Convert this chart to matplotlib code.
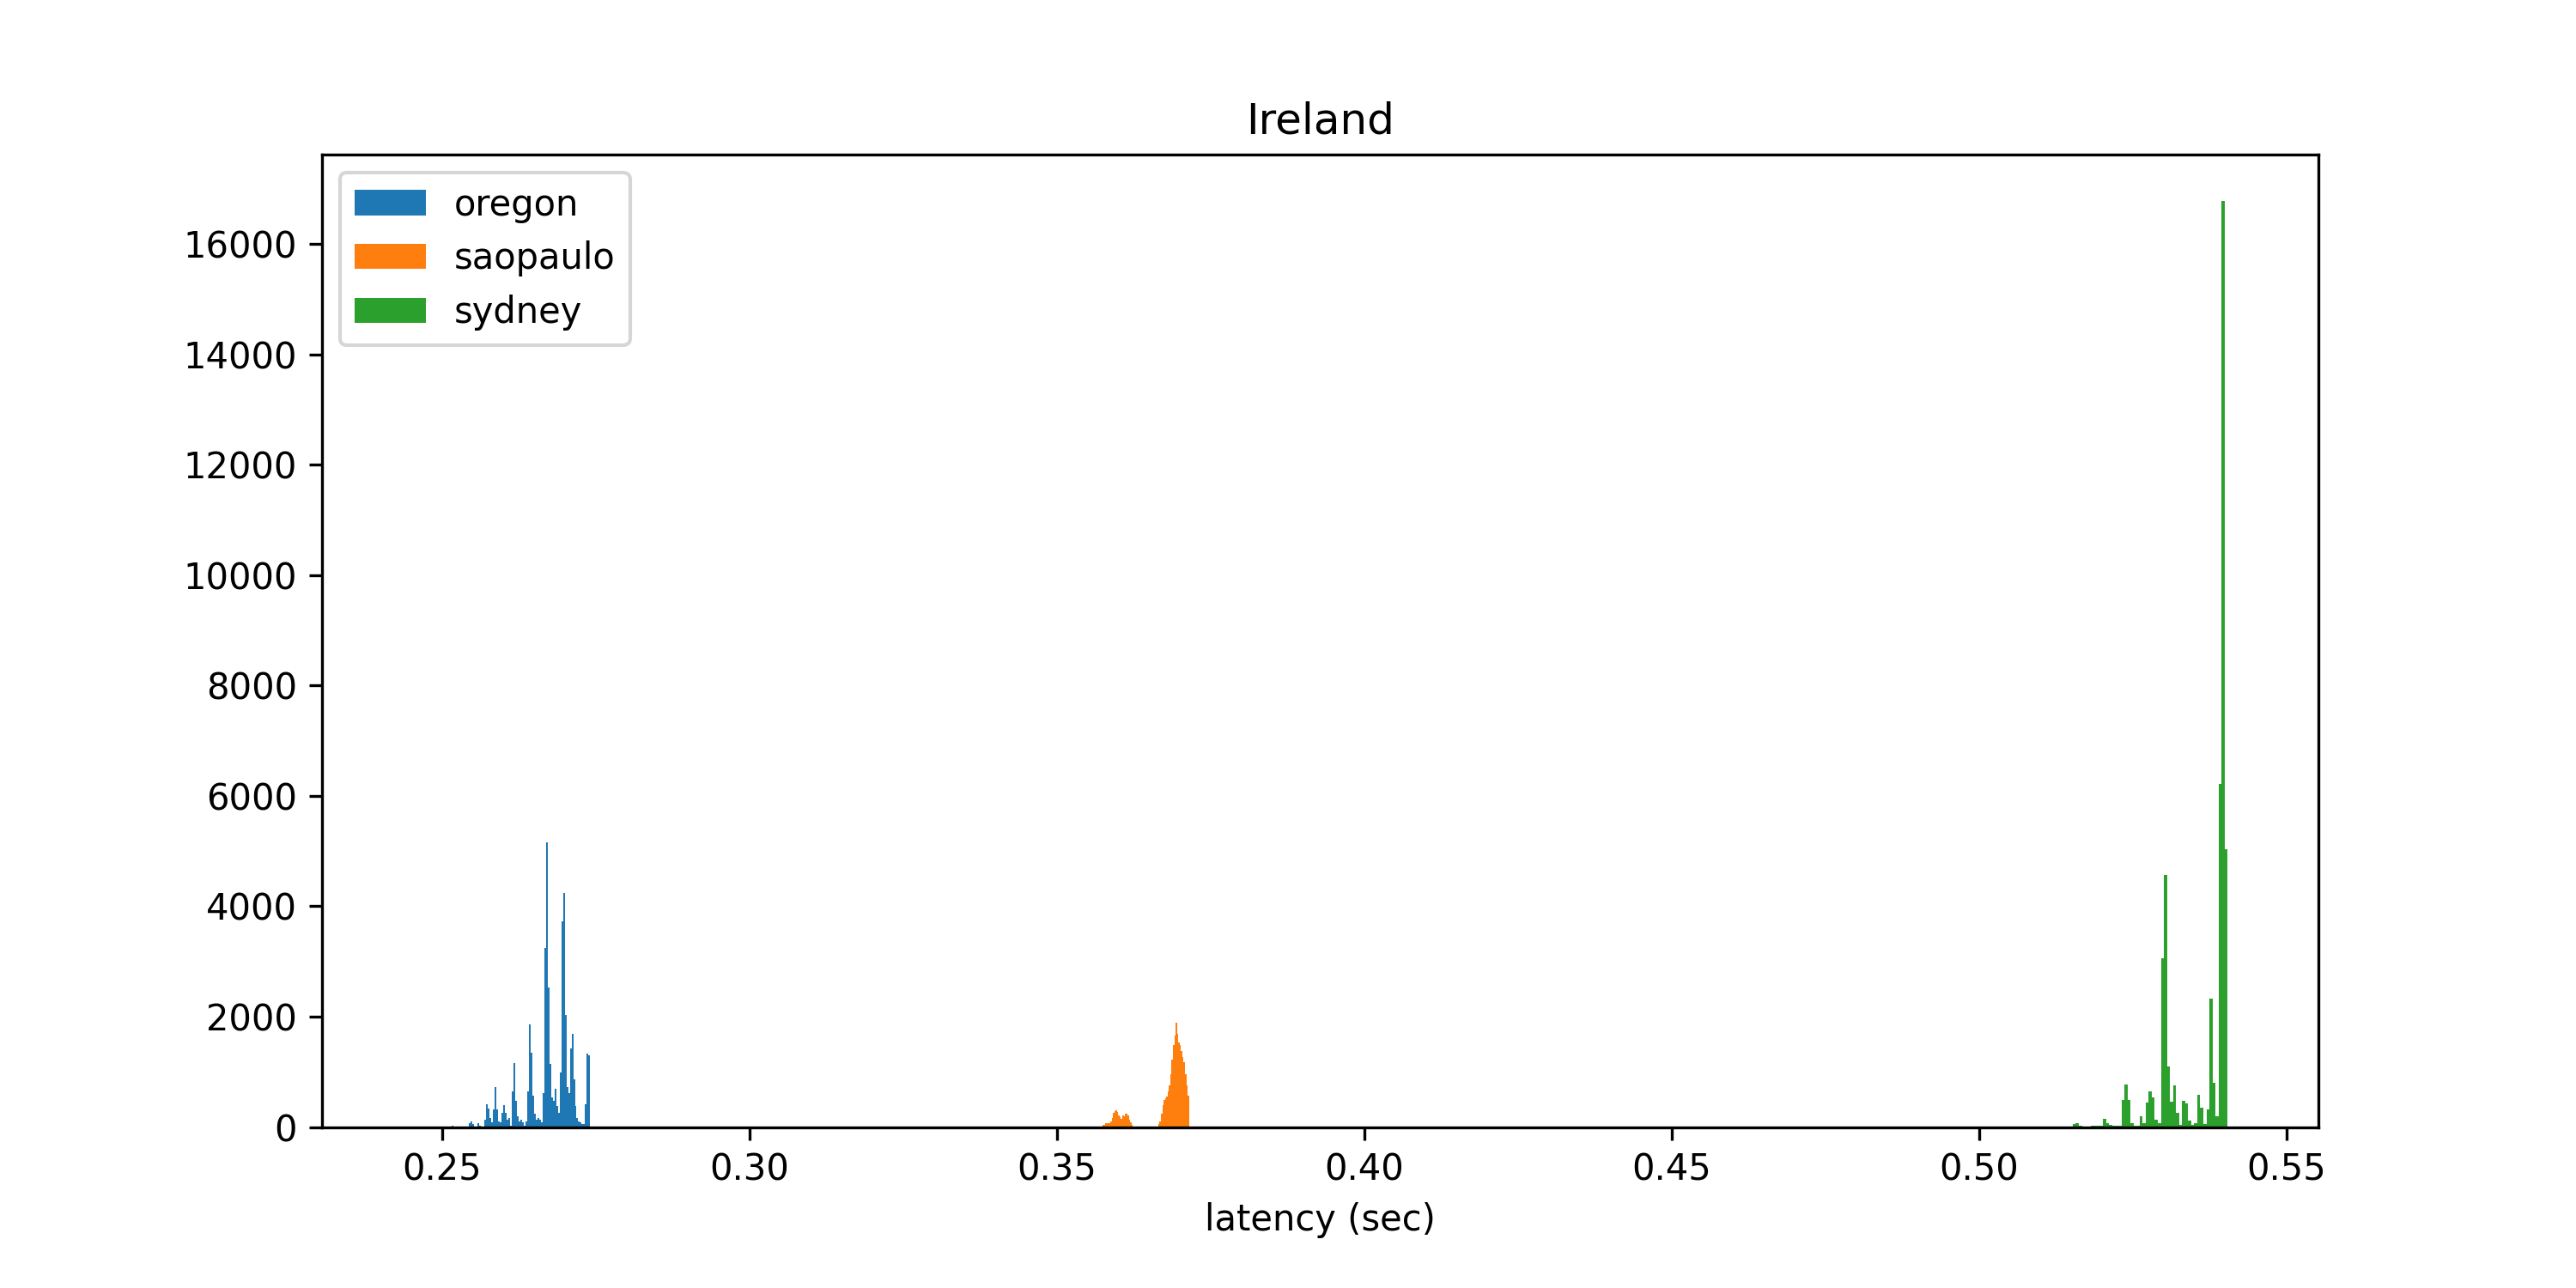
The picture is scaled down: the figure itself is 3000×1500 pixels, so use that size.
"""Ireland latency histograms for three remote regions."""

import matplotlib
matplotlib.use("Agg")
import matplotlib.pyplot as plt
import numpy as np

# per-bin counts; bins are equal width within each series
OREGON_START, OREGON_WIDTH = 0.24526, 0.0002776
OREGON_COUNTS = [
    0, 3, 0, 2, 1, 0, 4, 3, 2,
    14, 14, 3, 2, 14, 14, 3, 4, 3, 14, 14, 14,
    3, 4, 26, 14, 14, 3, 2, 3, 4, 3, 5, 14,
    73, 104, 57, 14, 14, 73, 26, 14, 14,
    140, 405, 337, 156, 78,
    322, 716, 322, 104, 78,
    249, 389, 249, 140, 156,
    30, 649, 1152, 477, 197, 104, 130, 78, 26,
    104, 649, 1853, 1349, 571, 234, 140, 171, 140, 88,
    607, 3244, 5150, 2533, 1137, 529, 477, 700, 374, 260,
    981, 3721, 4245, 2034, 716, 618, 1427, 1692, 867, 374, 156, 104, 88,
    62, 62, 405, 1323, 1292,
]

SAOPAULO_START, SAOPAULO_WIDTH = 0.34981, 0.000217
SAOPAULO_COUNTS = [
    10, 10, 0, 0, 0, 0, 0, 0, 8, 0,
    0, 0, 0, 0, 0, 0, 0, 0, 0, 0,
    0, 0, 0, 0, 0, 0, 0, 0, 0, 0,
    0, 0, 0, 0, 0, 36, 36, 73, 73, 73,
    73, 104, 156, 260, 285, 300, 270, 208, 182, 145,
    208, 197, 234, 244, 208, 130, 78, 36, 10, 0,
    0, 0, 0, 0, 0, 0, 0, 0, 0, 0,
    0, 0, 0, 0, 0, 0, 0, 52, 104, 234,
    389, 493, 519, 545, 649, 753, 960, 1220, 1479, 1661,
    1894, 1687, 1531, 1479, 1375, 1272, 1168, 960, 753, 571,
]

SYDNEY_START, SYDNEY_WIDTH = 0.51526, 0.000494
SYDNEY_COUNTS = [
    58, 75, 17, 3, 3, 5, 17, 17, 17, 17,
    144, 75, 46, 17, 17, 17,
    489, 776, 489, 75, 29, 29, 201, 69, 443, 644,
    535, 127, 69, 3053, 4560, 1093, 454, 753, 253, 46,
    472, 426, 115, 40, 69, 581, 345, 52, 316, 2323,
    799, 190, 6222, 16780, 5026,
]

SERIES = [
    ("oregon", OREGON_START, OREGON_WIDTH, OREGON_COUNTS),
    ("saopaulo", SAOPAULO_START, SAOPAULO_WIDTH, SAOPAULO_COUNTS),
    ("sydney", SYDNEY_START, SYDNEY_WIDTH, SYDNEY_COUNTS),
]

fig, ax = plt.subplots(figsize=(10, 5), dpi=300)
fig.subplots_adjust(left=0.125, right=0.9, top=0.88, bottom=0.125)

for name, start, width, counts in SERIES:
    counts = np.asarray(counts, dtype=float)
    edges = start + width * np.arange(len(counts) + 1)
    ax.hist(edges[:-1], bins=edges, weights=counts, label=name)

ax.set_title("Ireland")
ax.set_xlabel("latency (sec)")
ax.legend(loc="upper left")

fig.savefig("out.png", dpi=300)
